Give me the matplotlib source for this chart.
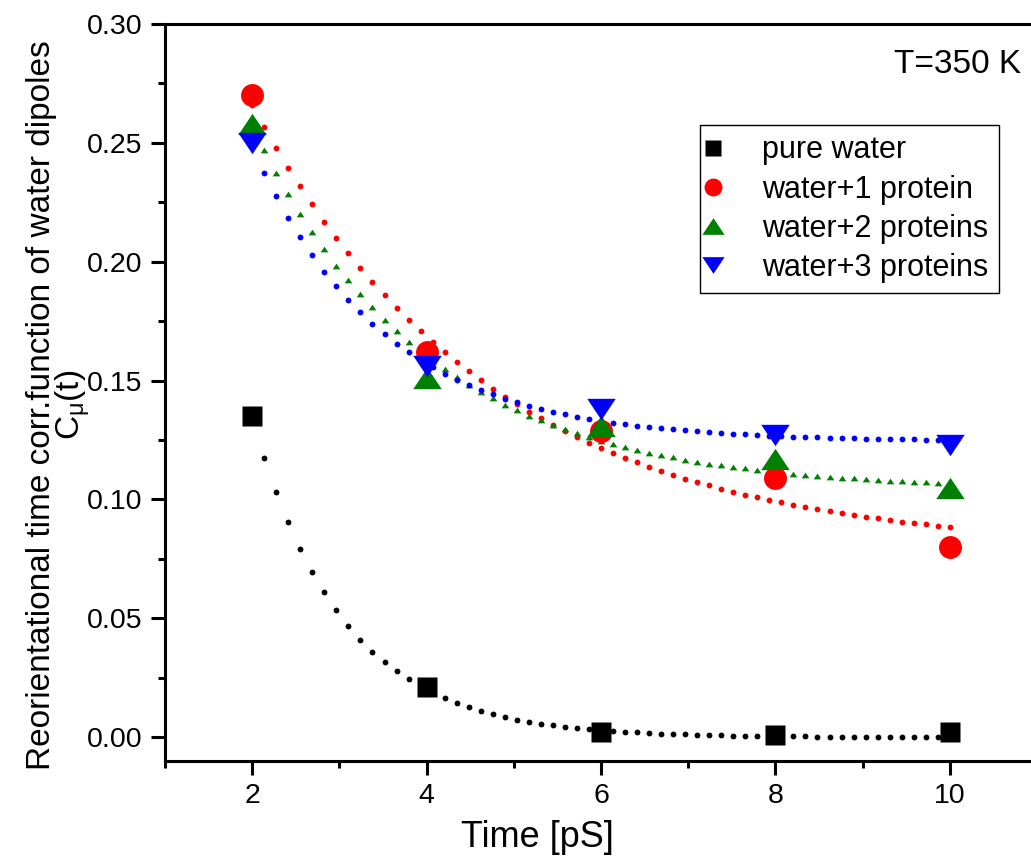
import numpy as np
from matplotlib import pyplot as plt
from matplotlib.ticker import MultipleLocator

plt.rcParams['font.family'] = ['Liberation Sans', 'DejaVu Sans']
plt.rcParams['mathtext.fontset'] = 'custom'
plt.rcParams['mathtext.rm'] = 'Liberation Sans'
plt.rcParams['mathtext.it'] = 'Liberation Sans'

# data
time = [2, 4, 6, 8, 10]
pure_water = [0.135, 0.021, 0.0024, 0.0011, 0.0024]
prot1 = [0.270, 0.162, 0.129, 0.109, 0.080]
prot2 = [0.258, 0.151, 0.131, 0.117, 0.105]
prot3 = [0.250, 0.156, 0.138, 0.127, 0.123]

# exponential decay fits  y = y0 + A*exp(-(t-2)/tau)
fit_y0 = [0.0, 0.0786, 0.104, 0.1245]
fit_A = [0.134, 0.1875, 0.153, 0.1239]
fit_tau = [1.05, 2.72, 2.0, 1.5]

labels = ['pure water', 'water+1 protein', 'water+2 proteins', 'water+3 proteins']
colors = ['black', '#ff0000', '#008000', '#0000ff']

tri_up = [(0, 0.75), (-1, -0.75), (1, -0.75)]
tri_dn = [(0, -0.75), (-1, 0.75), (1, 0.75)]
markers = ['s', 'o', tri_up, tri_dn]
msizes = [14.4, 16.5, 20.5, 20.5]
fit_markers = ['o', 'o', tri_up, 'o']
fit_msizes = [4.2, 4.2, 5.5, 4.2]

fig = plt.figure(figsize=(10.31, 8.59), dpi=100)
ax = fig.add_axes([165 / 1031, 1 - 761 / 859, 872 / 1031, 737 / 859])

tfit = np.linspace(2, 10, 59)
for i in range(4):
    yfit = fit_y0[i] + fit_A[i] * np.exp(-(tfit - 2) / fit_tau[i])
    ax.plot(tfit, yfit, linestyle='none', marker=fit_markers[i], ms=fit_msizes[i],
            color=colors[i], mec='none', zorder=2)

series = [pure_water, prot1, prot2, prot3]
for i in range(4):
    ax.plot(time, series[i], linestyle='none', marker=markers[i], ms=msizes[i],
            color=colors[i], mec='none', label=labels[i], zorder=3)

ax.set_xlim(1, 11)
ax.set_ylim(-0.01, 0.30)
ax.xaxis.set_minor_locator(MultipleLocator(1))
ax.yaxis.set_minor_locator(MultipleLocator(0.025))
yt = np.arange(0, 0.31, 0.05)
ax.set_yticks(yt)
ax.set_yticklabels(['%.2f' % v for v in yt])
ax.set_xticks([2, 4, 6, 8, 10])

for s in ax.spines.values():
    s.set_linewidth(2.2)
ax.tick_params(which='major', direction='out', length=10, width=2.2, labelsize=20.5, pad=6,
               top=False, right=False)
ax.tick_params(which='minor', direction='out', length=5, width=2.2, top=False, right=False)

ax.set_xlabel('Time [pS]', fontsize=26)
ax.xaxis.set_label_coords(0.427, -0.08)
ax.set_ylabel('Reorientational time corr.function of water dipoles\nC$_{\\mathrm{\\mu}}$(t)',
              fontsize=24, linespacing=0.85)
ax.yaxis.set_label_coords(-0.083, 0.483)

ax.text(10.82, 0.283, 'T=350 K', fontsize=24, ha='right', va='center')

leg = ax.legend(loc='upper left', bbox_to_anchor=(0.6135, 0.863), borderaxespad=0,
                fontsize=22, markerscale=0.78, fancybox=False, framealpha=1,
                edgecolor='black', borderpad=0.34, handlelength=0.2, handletextpad=1.5,
                labelspacing=0.3)
leg.get_frame().set_linewidth(1)

fig.savefig('out.png', dpi=100)
